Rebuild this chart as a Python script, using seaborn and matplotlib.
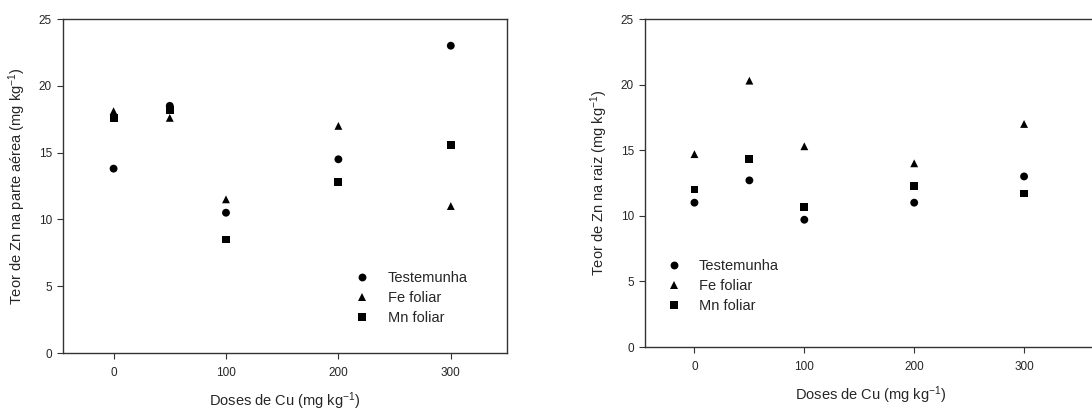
import numpy as np
import pandas as pd
import matplotlib
matplotlib.use("Agg")
import matplotlib.pyplot as plt
import seaborn as sns

doses = [0, 50, 100, 200, 300]
series = ["Testemunha", "Fe foliar", "Mn foliar"]

# Left panel: Zn in shoots
shoot_testemunha = [13.8, 18.5, 10.5, 14.5, 23.0]
shoot_fe = [18.1, 17.6, 11.5, 17.0, 11.0]
shoot_mn = [17.6, 18.2, 8.5, 12.8, 15.6]

# Right panel: Zn in roots
root_testemunha = [11.0, 12.7, 9.7, 11.0, 13.0]
root_fe = [14.7, 20.3, 15.3, 14.0, 17.0]
root_mn = [12.0, 14.3, 10.7, 12.3, 11.7]

xticks = [0, 100, 200, 300]
yticks = [0, 5, 10, 15, 20, 25]


def long_df(a, b, c):
    rows = []
    for name, vals in zip(series, [a, b, c]):
        for d, v in zip(doses, vals):
            rows.append({"dose": d, "zn": v, "trat": name})
    return pd.DataFrame(rows)


sns.set_style("ticks")
plt.rcParams["font.family"] = ["Liberation Sans", "DejaVu Sans"]
plt.rcParams["mathtext.default"] = "regular"

W, H = 1092, 412
fig = plt.figure(figsize=(W / 100, H / 100), dpi=100)


def px_axes(l, r, t, b):
    return fig.add_axes([l / W, 1 - b / H, (r - l) / W, (b - t) / H])


ax1 = px_axes(63, 507, 19, 353)
ax2 = px_axes(645, 1095.5, 19, 347)

markers = {"Testemunha": "o", "Fe foliar": "^", "Mn foliar": "s"}

panels = [
    (ax1, long_df(shoot_testemunha, shoot_fe, shoot_mn), (-45, 350),
     "Teor de Zn na parte aérea (mg kg$^{-1}$)", (0.657, 0.165), 1.28),
    (ax2, long_df(root_testemunha, root_fe, root_mn), (-45, 365),
     "Teor de Zn na raiz (mg kg$^{-1}$)", (0.048, 0.186), 1.2),
]

for ax, df, xl, ylab, anchor, tpad in panels:
    sns.scatterplot(data=df, x="dose", y="zn", style="trat", markers=markers,
                    style_order=series, color="black", s=32, edgecolor="black",
                    linewidth=0, ax=ax, legend=True)
    ax.set_xlim(*xl)
    ax.set_ylim(0, 25)
    ax.set_xticks(xticks)
    ax.set_yticks(yticks)
    ax.tick_params(direction="out", length=4, width=0.8, labelsize=8.5,
                   color="#333333", pad=4)
    ax.tick_params(axis="x", pad=6)
    for sp in ax.spines.values():
        sp.set_visible(True)
        sp.set_linewidth(1.0)
        sp.set_color("#333333")
    ax.set_xlabel("Doses de Cu (mg kg$^{-1}$)", fontsize=10.5, labelpad=8)
    ax.set_ylabel(ylab, fontsize=10.5, labelpad=8)
    handles, labels = ax.get_legend_handles_labels()
    ax.legend(handles, labels, loc="center left", bbox_to_anchor=anchor,
              frameon=False, fontsize=10.5, handlelength=1.0,
              handletextpad=tpad, labelspacing=0.42, borderpad=0,
              borderaxespad=0, markerscale=1.0)

fig.savefig("out.png", dpi=100)
